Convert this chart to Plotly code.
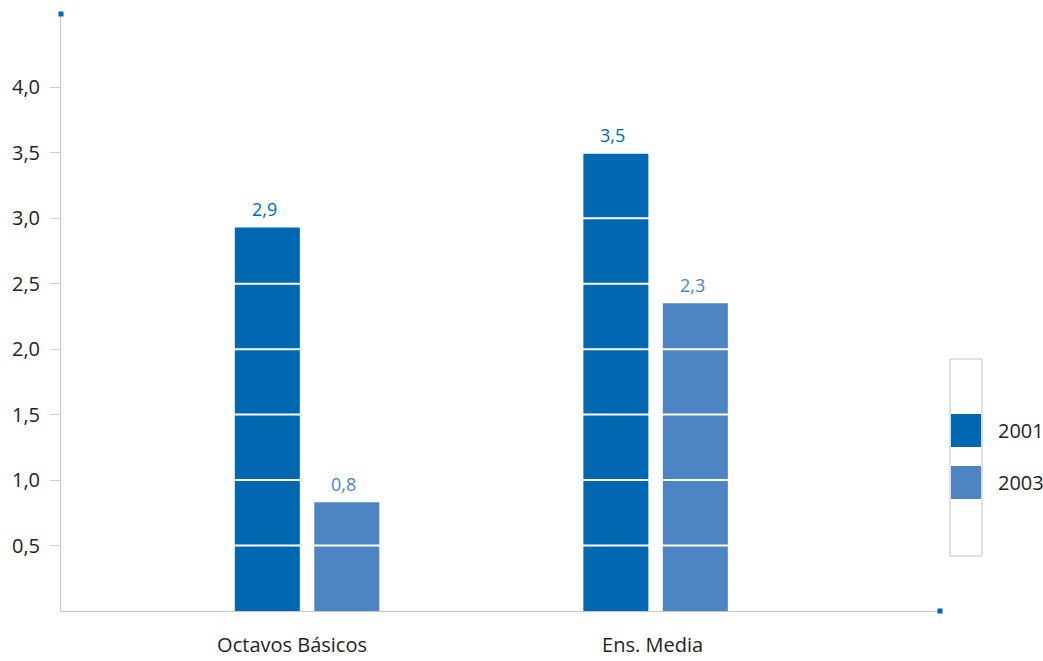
import plotly.graph_objects as go

categories = ["Octavos Básicos", "Ens. Media"]
series_names = ["2001", "2003"]
values_2001 = [2.93, 3.5]
values_2003 = [0.83, 2.35]
labels_2001 = ["2,9", "3,5"]
labels_2003 = ["0,8", "2,3"]
y_ticks = [0.5, 1.0, 1.5, 2.0, 2.5, 3.0, 3.5, 4.0]

colors = ["#0067b1", "#4d84c4"]
FONT = "Open Sans"
TXT = "#231f20"

bar_w = 0.1865
offset = 0.114
px_per_unit = 348.5
label_nudge_px = [-15, -3]
xs = list(range(len(categories)))

fig = go.Figure()
series = [(values_2001, labels_2001), (values_2003, labels_2003)]
annotations = []
for k, (vals, labs) in enumerate(series):
    sign = -1 if k == 0 else 1
    xpos = [x + sign * offset for x in xs]
    fig.add_trace(go.Bar(x=xpos, y=vals, width=bar_w, name=series_names[k],
                         marker=dict(color=colors[k], line=dict(width=0)),
                         showlegend=False, hoverinfo="y"))
    for xp, v, t in zip(xpos, vals, labs):
        annotations.append(dict(x=xp, y=v, xref="x", yref="y", text=t, showarrow=False,
                                yanchor="bottom", yshift=4, xshift=-3,
                                font=dict(family=FONT, size=18, color=colors[k])))

shapes = []
# white gridlines over bars
for t in y_ticks:
    shapes.append(dict(type="line", xref="paper", yref="y", x0=0.01, x1=0.99, y0=t, y1=t,
                       line=dict(color="white", width=2), layer="above"))
# corner markers
shapes.append(dict(type="rect", xref="paper", yref="paper", xsizemode="pixel", ysizemode="pixel",
                   xanchor=0, yanchor=1, x0=-2.5, x1=2.5, y0=-2.5, y1=2.5,
                   fillcolor=colors[0], line=dict(width=0), layer="above"))
shapes.append(dict(type="rect", xref="paper", yref="paper", xsizemode="pixel", ysizemode="pixel",
                   xanchor=1, yanchor=0, x0=-2.5, x1=2.5, y0=-2.5, y1=2.5,
                   fillcolor=colors[0], line=dict(width=0), layer="above"))
# custom legend
shapes.append(dict(type="rect", xref="paper", yref="paper", x0=1.0114, x1=1.0478, y0=0.0921, y1=0.4221,
                   line=dict(color="#c0c4c8", width=1), fillcolor="white"))
leg_y = [(0.2747, 0.33), (0.1876, 0.2429)]
for k, (y0, y1) in enumerate(leg_y):
    shapes.append(dict(type="rect", xref="paper", yref="paper", x0=1.0125, x1=1.0467, y0=y0, y1=y1,
                       line=dict(width=0), fillcolor=colors[k]))
    annotations.append(dict(x=1.0637, y=(y0 + y1) / 2, xref="paper", yref="paper", text=series_names[k],
                            showarrow=False, xanchor="left", yanchor="middle",
                            font=dict(family=FONT, size=20, color=TXT)))

tick_pos = [x + n / px_per_unit for x, n in zip(xs, label_nudge_px)]

fig.update_layout(
    width=1043, height=661,
    margin=dict(l=61, r=103, t=14, b=50),
    paper_bgcolor="white", plot_bgcolor="white",
    separators=",.",
    font=dict(family=FONT, size=20, color=TXT),
    showlegend=False,
    shapes=shapes, annotations=annotations,
    xaxis=dict(range=[-0.706, 1.816], tickvals=tick_pos, ticktext=categories, automargin=False,
               showgrid=False, zeroline=False, showline=True, linecolor="#c8c8c8", linewidth=1,
               ticks="", ticklabelstandoff=16, tickfont=dict(family=FONT, size=20, color=TXT)),
    yaxis=dict(range=[0, 4.56], tickvals=y_ticks, tickformat=".1f", automargin=False,
               showgrid=False, zeroline=False, showline=True, linecolor="#c8c8c8", linewidth=1,
               ticks="outside", ticklen=10, tickcolor="#d0d0d0", tickwidth=1,
               ticklabelstandoff=6, tickfont=dict(family=FONT, size=20, color=TXT)),
)

fig.write_html("out.html", config={"displayModeBar": False},
               post_script="document.body.style.margin='0px';")
